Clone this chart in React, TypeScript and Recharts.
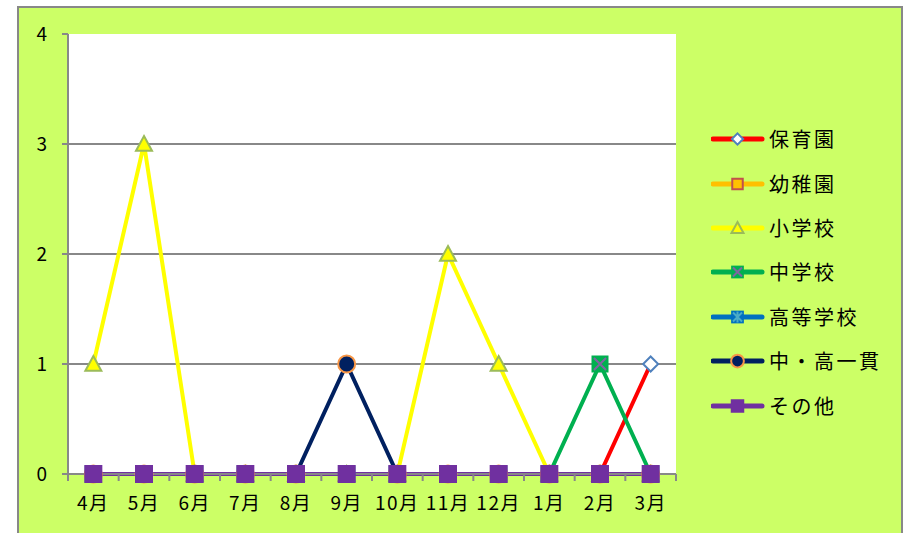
import React from 'react';
import { LineChart, Line, XAxis, YAxis, CartesianGrid } from 'recharts';

const MONTHS = ['4月', '5月', '6月', '7月', '8月', '9月', '10月', '11月', '12月', '1月', '2月', '3月'];
const HOIKUEN = [0, 0, 0, 0, 0, 0, 0, 0, 0, 0, 0, 1];
const YOCHIEN = [0, 0, 0, 0, 0, 0, 0, 0, 0, 0, 0, 0];
const SHOGAKKO = [1, 3, 0, 0, 0, 0, 0, 2, 1, 0, 0, 0];
const CHUGAKKO = [0, 0, 0, 0, 0, 0, 0, 0, 0, 0, 1, 0];
const KOTOGAKKO = [0, 0, 0, 0, 0, 0, 0, 0, 0, 0, 0, 0];
const CHUKO = [0, 0, 0, 0, 0, 1, 0, 0, 0, 0, 0, 0];
const SONOTA = [0, 0, 0, 0, 0, 0, 0, 0, 0, 0, 0, 0];
const Y_TICKS = [0, 1, 2, 3, 4];
const GRID_VALUES = [1, 2, 3];

const data = MONTHS.map((month, i) => ({
  month,
  hoikuen: HOIKUEN[i],
  yochien: YOCHIEN[i],
  shogakko: SHOGAKKO[i],
  chugakko: CHUGAKKO[i],
  kotogakko: KOTOGAKKO[i],
  chuko: CHUKO[i],
  sonota: SONOTA[i],
}));

const SERIES = [
  { key: 'hoikuen', name: '保育園', color: '#ff0000', marker: 'diamond' },
  { key: 'yochien', name: '幼稚園', color: '#ffc000', marker: 'square' },
  { key: 'shogakko', name: '小学校', color: '#ffff00', marker: 'triangle' },
  { key: 'chugakko', name: '中学校', color: '#00b050', marker: 'x' },
  { key: 'kotogakko', name: '高等学校', color: '#0070c0', marker: 'star' },
  { key: 'chuko', name: '中・高一貫', color: '#002060', marker: 'circle' },
  { key: 'sonota', name: 'その他', color: '#7030a0', marker: 'bigsquare' },
];

const W = 908;
const H = 533;
const PLOT_LEFT = 68;
const PLOT_RIGHT = 676;
const PLOT_BOTTOM = 474;
const BAND = (PLOT_RIGHT - PLOT_LEFT) / MONTHS.length;
const GRAY = '#888888';

function Marker({ kind, cx, cy, s = 1 }: { kind: string; cx: number; cy: number; s?: number }) {
  if (kind === 'diamond') {
    const r = 7.5 * s;
    return (
      <path
        d={`M${cx},${cy - r} L${cx + r},${cy} L${cx},${cy + r} L${cx - r},${cy} Z`}
        fill="#ffffff"
        stroke="#4f81bd"
        strokeWidth={2}
      />
    );
  }
  if (kind === 'square') {
    const r = 7 * s;
    return <rect x={cx - r} y={cy - r} width={2 * r} height={2 * r} fill="#ffc000" stroke="#c0504d" strokeWidth={2} />;
  }
  if (kind === 'triangle') {
    const r = 8 * s;
    return (
      <path
        d={`M${cx},${cy - r} L${cx + r},${cy + r * 0.85} L${cx - r},${cy + r * 0.85} Z`}
        fill="#ffff00"
        stroke="#9bbb59"
        strokeWidth={2}
      />
    );
  }
  if (kind === 'x') {
    const r = 8.5 * s;
    const q = 6 * s;
    return (
      <g>
        <rect x={cx - r} y={cy - r} width={2 * r} height={2 * r} fill="#00b050" />
        <path d={`M${cx - q},${cy - q} L${cx + q},${cy + q} M${cx + q},${cy - q} L${cx - q},${cy + q}`} stroke="#8064a2" strokeWidth={2} />
      </g>
    );
  }
  if (kind === 'star') {
    const r = 8.5 * s;
    const q = 6 * s;
    return (
      <g>
        <rect x={cx - r} y={cy - r} width={2 * r} height={2 * r} fill="#0070c0" />
        <path
          d={`M${cx - q},${cy - q} L${cx + q},${cy + q} M${cx + q},${cy - q} L${cx - q},${cy + q} M${cx},${cy - q - 1} L${cx},${cy + q + 1}`}
          stroke="#4bacc6"
          strokeWidth={2}
        />
      </g>
    );
  }
  if (kind === 'circle') {
    return <circle cx={cx} cy={cy} r={8.5 * s} fill="#002060" stroke="#f79646" strokeWidth={2} />;
  }
  const r = 9 * s;
  return <rect x={cx - r} y={cy - r} width={2 * r} height={2 * r} fill="#7030a0" />;
}

const makeDot = (kind: string) => (props: any) => {
  const { cx, cy, index } = props;
  if (cx == null || cy == null) return <g key={`${kind}-${index}`} />;
  return (
    <g key={`${kind}-${index}`}>
      <Marker kind={kind} cx={cx} cy={cy} />
    </g>
  );
};

const XTick = (props: any) => {
  const { x, payload, index } = props;
  return (
    <g>
      <line x1={x - BAND / 2} x2={x - BAND / 2} y1={PLOT_BOTTOM} y2={PLOT_BOTTOM + 7} stroke={GRAY} strokeWidth={2} />
      {index === MONTHS.length - 1 && (
        <line x1={x + BAND / 2} x2={x + BAND / 2} y1={PLOT_BOTTOM} y2={PLOT_BOTTOM + 7} stroke={GRAY} strokeWidth={2} />
      )}
      <text x={x} y={PLOT_BOTTOM + 23} dy="0.71em" textAnchor="middle" fontSize={19} fill="#000" letterSpacing={1.5}>
        {payload.value}
      </text>
    </g>
  );
};

function Legend() {
  return (
    <div style={{ position: 'absolute', left: 711, top: 117 }}>
      {SERIES.map((s) => (
        <div key={s.key} style={{ height: 44.4, display: 'flex', alignItems: 'center' }}>
          <svg width={54} height={24} style={{ display: 'block' }}>
            <line x1={2} x2={51} y1={12} y2={12} stroke={s.color} strokeWidth={5} strokeLinecap="round" />
            <Marker kind={s.marker} cx={26.5} cy={12} s={0.75} />
          </svg>
          <span style={{ fontSize: 20, letterSpacing: 2.5, marginLeft: 4, color: '#000', lineHeight: 1 }}>{s.name}</span>
        </div>
      ))}
    </div>
  );
}

export default function App() {
  return (
    <div
      style={{
        position: 'absolute',
        left: 0,
        top: 0,
        width: W,
        height: H,
        overflow: 'hidden',
        background: '#ffffff',
        fontFamily: '"Noto Sans CJK JP", "Noto Sans", sans-serif',
      }}
    >
      <div
        style={{
          position: 'absolute',
          left: 17,
          top: 6,
          width: 882,
          height: 560,
          background: '#ccff66',
          border: `2px solid ${GRAY}`,
        }}
      />
      <div style={{ position: 'absolute', left: 0, top: 0 }}>
        <LineChart width={W} height={H} data={data} margin={{ top: 34, right: W - PLOT_RIGHT, bottom: 29, left: 18 }}>
          <CartesianGrid
            vertical={false}
            horizontalValues={GRID_VALUES}
            stroke={GRAY}
            strokeWidth={2}
            fill="#ffffff"
            fillOpacity={1}
          />
          <XAxis
            dataKey="month"
            height={30}
            interval={0}
            padding={{ left: BAND / 2, right: BAND / 2 }}
            axisLine={{ stroke: GRAY, strokeWidth: 2 }}
            tickLine={false}
            tick={<XTick />}
          />
          <YAxis
            width={50}
            domain={[0, 4]}
            ticks={Y_TICKS}
            interval={0}
            axisLine={{ stroke: GRAY, strokeWidth: 2 }}
            tickLine={{ stroke: GRAY, strokeWidth: 2 }}
            tickSize={6}
            tickMargin={15}
            tick={{ fill: '#000', fontSize: 19 }}
          />
          {SERIES.map((s) => (
            <Line
              key={s.key}
              dataKey={s.key}
              name={s.name}
              type="linear"
              stroke={s.color}
              strokeWidth={4}
              dot={makeDot(s.marker)}
              activeDot={false}
              isAnimationActive={false}
            />
          ))}
        </LineChart>
      </div>
      <Legend />
    </div>
  );
}
